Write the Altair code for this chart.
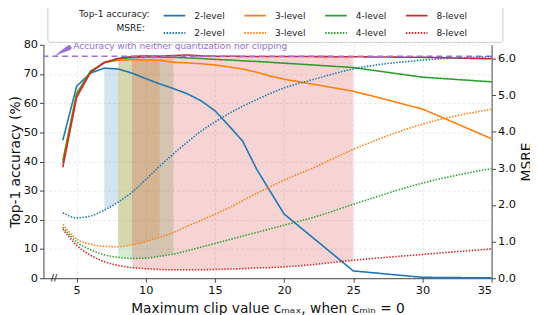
import altair as alt
import pandas as pd

# ---------------- data ----------------
LEVELS = ["2-level", "3-level", "4-level", "8-level"]
COLORS = ["#1f77b4", "#ff7f0e", "#2ca02c", "#d62728"]

ACC_X = [4, 5, 6, 7, 8, 9, 10, 11, 12, 13, 14, 15, 16, 17, 18, 19, 20, 25, 30, 35]
ACC_2 = [47.3, 65.8, 70.3, 72.0, 71.7, 70.3, 68.4, 66.6, 65.0, 63.2, 60.8, 57.4, 52.3, 47.0, 37.5, 29.7, 22.0, 2.5, 0.3, 0.1]
ACC_3 = [40.5, 63.5, 70.8, 73.9, 74.7, 74.9, 74.8, 74.7, 74.0, 73.8, 73.5, 73.1, 72.4, 71.7, 70.6, 69.3, 68.2, 64.1, 58.0, 47.8]
ACC_4 = [39.5, 63.0, 71.0, 73.8, 75.2, 75.6, 75.8, 75.8, 75.7, 75.5, 75.3, 75.0, 74.8, 74.5, 74.3, 74.0, 73.7, 72.2, 68.9, 67.3]
ACC_8 = [38.0, 62.0, 70.5, 74.0, 75.3, 76.0, 76.2, 76.1, 76.3, 76.5, 76.2, 76.1, 76.1, 76.0, 76.0, 76.0, 76.0, 75.9, 75.7, 75.2]

MSRE_X = [4, 5, 6, 7, 8, 9, 10, 11, 12, 13, 14, 15, 16, 17, 18, 19, 20, 22, 25, 30, 35]
MSRE_2 = [1.79, 1.65, 1.70, 1.86, 2.08, 2.35, 2.70, 3.06, 3.40, 3.72, 4.02, 4.27, 4.50, 4.70, 4.88, 5.05, 5.20, 5.42, 5.72, 5.96, 6.05]
MSRE_3 = [1.47, 1.07, 0.93, 0.87, 0.86, 0.91, 1.00, 1.12, 1.25, 1.42, 1.58, 1.75, 1.92, 2.12, 2.32, 2.50, 2.68, 3.00, 3.52, 4.21, 4.62]
MSRE_4 = [1.39, 0.99, 0.78, 0.64, 0.57, 0.54, 0.55, 0.60, 0.66, 0.75, 0.85, 0.95, 1.05, 1.15, 1.25, 1.35, 1.45, 1.65, 2.02, 2.60, 3.00]
MSRE_8 = [1.34, 0.90, 0.63, 0.45, 0.35, 0.29, 0.26, 0.24, 0.23, 0.23, 0.23, 0.24, 0.25, 0.26, 0.28, 0.29, 0.31, 0.37, 0.49, 0.65, 0.80]

# shaded ranges (between MSRE curve and accuracy curve of the same level)
SPAN_LO = [7, 8, 8, 9]
SPAN_HI = [8, 11, 12, 25]

REF_ACC = 76.1
REF_TEXT = "Accuracy with neither quantization nor clipping"
REF_TEXT_X = [4.75]
REF_TEXT_Y = [79.6]
ARROW_X = [3.45, 3.9, 4.45]
ARROW_Y = [76.2, 77.6, 79.0]
ARROW_W = [0.6, 2.5, 5.0]
BREAK_X = [3.37]
BREAK_Y = [0]

X_DOMAIN = [2.6, 35]
X_TICKS = [5, 10, 15, 20, 25, 30, 35]
ACC_DOMAIN = [0, 80]
ACC_TICKS = [0, 10, 20, 30, 40, 50, 60, 70, 80]
MSRE_DOMAIN = [0, 6.38]
MSRE_TICKS = [0, 1, 2, 3, 4, 5, 6]

PURPLE = "#9b6fd3"
FONT = "DejaVu Sans"

# ---------------- tables ----------------
acc_series = [ACC_2, ACC_3, ACC_4, ACC_8]
msre_series = [MSRE_2, MSRE_3, MSRE_4, MSRE_8]
KEYS = ["A|" + l for l in LEVELS] + ["M|" + l for l in LEVELS]

acc_rows, msre_rows, fill_rows = [], [], []
scale_factor = (ACC_DOMAIN[1] - ACC_DOMAIN[0]) / (MSRE_DOMAIN[1] - MSRE_DOMAIN[0])
for lvl, acc, msre, lo, hi in zip(LEVELS, acc_series, msre_series, SPAN_LO, SPAN_HI):
    for x, v in zip(ACC_X, acc):
        acc_rows.append({"x": x, "y": v, "key": "A|" + lvl, "level": lvl})
    for x, v in zip(MSRE_X, msre):
        msre_rows.append({"x": x, "m": v, "key": "M|" + lvl, "level": lvl})
    mlookup = dict(zip(MSRE_X, msre))
    for x, v in zip(ACC_X, acc):
        if lo <= x <= hi:
            fill_rows.append({"x": x, "y": v, "y2": mlookup[x] * scale_factor, "level": lvl})

acc_df = pd.DataFrame(acc_rows)
msre_df = pd.DataFrame(msre_rows)
fill_df = pd.DataFrame(fill_rows)

# ---------------- encodings ----------------
x_enc = alt.X(
    "x:Q",
    scale=alt.Scale(domain=X_DOMAIN, nice=False, zero=False),
    axis=alt.Axis(values=X_TICKS, title="Maximum clip value cₘₐₓ, when cₘᵢₙ = 0",
                  grid=True, tickSize=4, labelPadding=3, titlePadding=5),
)
y_left = alt.Y(
    "y:Q",
    scale=alt.Scale(domain=ACC_DOMAIN, nice=False, zero=True),
    axis=alt.Axis(values=ACC_TICKS, title="Top-1 accuracy (%)", grid=True,
                  tickSize=4, labelPadding=2, titlePadding=1),
)

NB = "\u00a0"
ZW = "\u200b"
legend = alt.Legend(
    title=[ZW + NB * 10 + "Top-1 accuracy:", ZW + NB * 23 + "MSRE:"],
    orient="none", legendX=4, legendY=-45,
    direction="horizontal", columns=4,
    symbolType="stroke", symbolSize=484, symbolStrokeWidth=2,
    labelFont=FONT, labelFontSize=9.2, labelColor="#222222",
    titleFont=FONT, titleFontSize=9.2, titleFontWeight="normal", titleColor="#222222",
    titleOrient="left", titleAlign="left", titleLineHeight=14,
    titleBaseline="middle", titleAnchor="middle",
    titlePadding=13, titleLimit=300,
    labelOffset=8, columnPadding=15, rowPadding=-1, labelLimit=300,
    labelExpr="split(datum.label, '|')[1] + (indexof(datum.label, '8-level') >= 0 ? '" + NB * 11 + ZW + "' : '')",
    strokeColor="#cccccc", padding=3, cornerRadius=2, fillColor="white",
)
DASHES = [[1, 0]] * 4 + [[1.5, 1.5]] * 4
color_enc = alt.Color("key:N", scale=alt.Scale(domain=KEYS, range=COLORS * 2), legend=legend)
dash_enc = alt.StrokeDash("key:N", scale=alt.Scale(domain=KEYS, range=DASHES), legend=legend)

fills = alt.Chart(fill_df).mark_area(opacity=0.2).encode(
    x=x_enc, y=y_left, y2="y2:Q",
    fill=alt.Fill("level:N", scale=alt.Scale(domain=LEVELS, range=COLORS), legend=None),
    detail="level:N",
)

acc_lines = alt.Chart(acc_df).mark_line(strokeWidth=1.6).encode(
    x=x_enc, y=y_left, color=color_enc, strokeDash=dash_enc, detail="key:N",
)

ref_rule = alt.Chart(pd.DataFrame({"y": [REF_ACC]})).mark_rule(
    color=PURPLE, strokeDash=[6, 4], strokeWidth=1.5
).encode(y=y_left)

ref_text = alt.Chart(pd.DataFrame({"x": REF_TEXT_X, "y": REF_TEXT_Y, "t": [REF_TEXT]})).mark_text(
    align="left", baseline="middle", font=FONT, fontSize=9.2, color=PURPLE
).encode(x=x_enc, y=y_left, text="t:N")

arrow = alt.Chart(pd.DataFrame({"x": ARROW_X, "y": ARROW_Y, "w": ARROW_W})).mark_trail(
    color=PURPLE
).encode(
    x=x_enc, y=y_left,
    size=alt.Size("w:Q", scale=None, legend=None),
)

brk = alt.Chart(pd.DataFrame({"x": BREAK_X, "y": BREAK_Y, "t": ["//"]})).mark_text(
    font=FONT, fontSize=9, fontWeight="bold", color="#333333", baseline="middle", align="center"
).encode(x=x_enc, y=y_left, text="t:N")

left = alt.layer(fills, acc_lines, ref_rule, ref_text, arrow, brk)

msre_lines = alt.Chart(msre_df).mark_line(strokeWidth=1.6, interpolate="monotone").encode(
    x=x_enc,
    y=alt.Y("m:Q", scale=alt.Scale(domain=MSRE_DOMAIN, nice=False),
            axis=alt.Axis(orient="right", values=MSRE_TICKS, format=".1f", title="MSRE",
                          grid=False, tickSize=4, labelPadding=2, titlePadding=4,
                          titleAngle=270, titleBaseline="top")),
    color=color_enc, strokeDash=dash_enc, detail="key:N",
)

chart = alt.layer(left, msre_lines).resolve_scale(y="independent").properties(
    width=455, height=237,
    padding={"left": 36, "top": 35, "right": 39, "bottom": 35},
    autosize=alt.AutoSizeParams(type="none"),
).configure_view(stroke=None).configure_axis(
    labelFont=FONT, titleFont=FONT, labelFontSize=11.5, titleFontSize=14,
    titleFontWeight="normal", labelColor="#111111", titleColor="#111111",
    domainColor="#444444", tickColor="#444444",
    gridColor="#e3e3e3", gridDash=[3, 2], gridWidth=0.8,
)

chart.save("out.html", embed_options={"renderer": "svg", "actions": False})
